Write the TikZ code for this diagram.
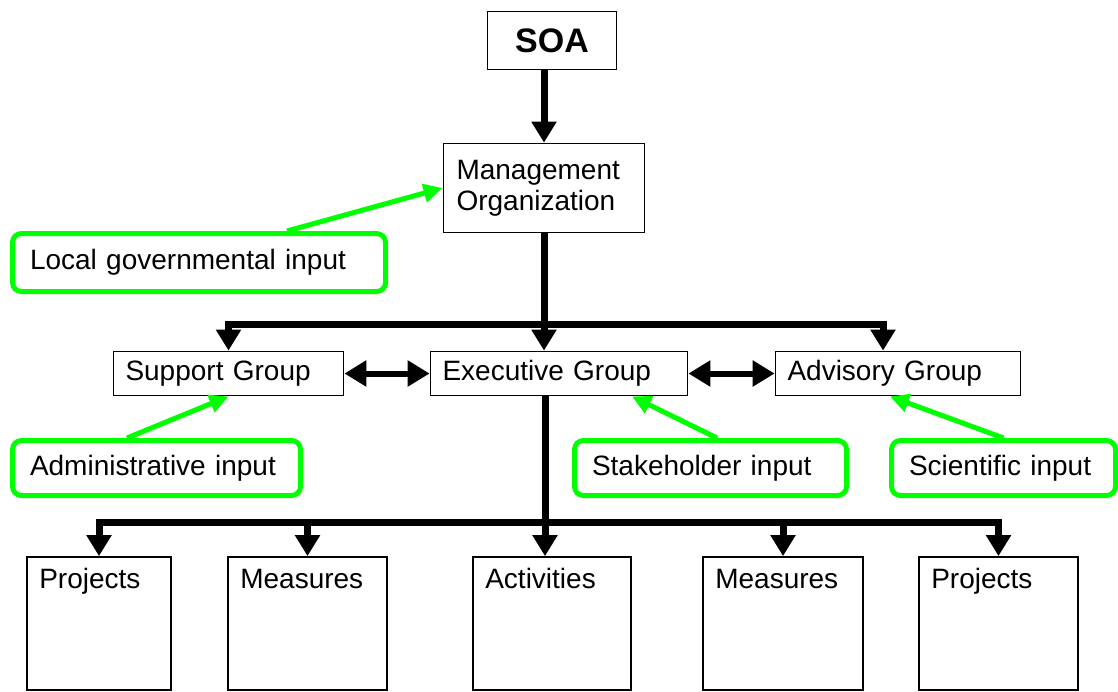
\documentclass[tikz,border=0pt]{standalone}
\usepackage{fontspec}
\setmainfont{Liberation Sans}
\usepackage{xcolor}
\usetikzlibrary{arrows.meta,positioning,calc}
\definecolor{inGreen}{HTML}{00FF00}

\begin{document}
\begin{tikzpicture}[x=1pt,y=-1pt,
  font=\fontsize{28}{31}\selectfont,
  box/.style={draw=black,line width=1.8pt,fill=white,inner xsep=12pt,inner ysep=0pt,align=left},
  unit/.style={draw=black,line width=1.8pt,fill=white,minimum height=133pt,inner sep=0pt},
  uname/.style={anchor=base west,inner sep=0pt},
  input/.style={draw=inGreen,line width=5pt,rounded corners=9pt,fill=white,inner xsep=17.5pt,inner ysep=0pt,minimum height=55pt,align=left},
  ar/.style={-{Triangle[length=21pt,width=24pt]},line width=7pt},
  dar/.style={{Triangle[length=22pt,width=25pt]}-{Triangle[length=22pt,width=25pt]},line width=6pt},
  gar/.style={-{Triangle[length=19pt,width=18pt]},draw=inGreen,line width=5pt}]

\useasboundingbox (0,0) rectangle (1118,691);

% top of the hierarchy
\node[box,inner xsep=0pt,align=center,minimum width=129pt,minimum height=58pt,
  font=\fontsize{34}{40}\selectfont\bfseries] (soa) at (552,40.5) {SOA};
\node[box,text width=175pt,minimum height=89pt,inner xsep=13pt] (mgmt) at (544,188)
  {Management\\Organization};

% groups
\node[box,text width=206pt,minimum height=44pt] (sup) at (228.5,373.5) {Support Group};
\node[box,text width=233pt,minimum height=44pt] (exec) at (559,373.5) {Executive Group};
\node[box,text width=221pt,minimum height=44pt] (adv) at (898,373.5) {Advisory Group};

% inputs
\node[input,text width=338pt,minimum height=58pt] (local) at (199,262.5) {Local governmental input};
\node[input,text width=253pt] (admin) at (156.5,468) {Administrative input};
\node[input,text width=237pt] (stake) at (710.5,468) {Stakeholder input};
\node[input,text width=189pt] (sci) at (1003.5,468) {Scientific input};

% work units
\node[unit,minimum width=144pt] (proj1) at (99,623.5) {};
\node[unit,minimum width=159pt] (meas1) at (307.5,623.5) {};
\node[unit,minimum width=158pt] (act) at (552,623.5) {};
\node[unit,minimum width=160pt] (meas2) at (783,623.5) {};
\node[unit,minimum width=159pt] (proj2) at (998.5,623.5) {};
\node[uname] (proj1t) at ([shift={(13,32)}]proj1.north west) {Projects};
\node[uname] (meas1t) at ([shift={(13,32)}]meas1.north west) {Measures};
\node[uname] (actt) at ([shift={(13,32)}]act.north west) {Activities};
\node[uname] (meas2t) at ([shift={(13,32)}]meas2.north west) {Measures};
\node[uname] (proj2t) at ([shift={(13,32)}]proj2.north west) {Projects};

% black connectors
\draw[ar] (soa.south -| mgmt.north) -- (mgmt.north);
\coordinate (tb) at (544,324);
\draw[ar] (mgmt.south) -- (mgmt.south |- exec.north);
\draw[ar] (tb) -| (sup.north);
\draw[ar] (tb) -| ([xshift=-15pt]adv.north);
\draw[dar] (sup.east) -- (exec.west);
\draw[dar] (exec.east) -- (adv.west);

\coordinate (bb) at (545,522);
\draw[ar] (exec.south -| bb) -- (act.north -| bb);
\draw[ar] (bb) -| (proj1.north);
\draw[ar] (bb) -| (proj2.north);
\draw[ar] (meas1.north |- bb) -- (meas1.north);
\draw[ar] (meas2.north |- bb) -- (meas2.north);

% green input arrows
\draw[gar] ([xshift=88pt]local.north) -- (mgmt.west);
\draw[gar] ([xshift=-29.5pt]admin.north) -- (sup.south);
\draw[gar] ([xshift=6.5pt]stake.north) -- ([xshift=73pt]exec.south);
\draw[gar] (sci.north) -- ([xshift=-8pt]adv.south);
\end{tikzpicture}
\end{document}
